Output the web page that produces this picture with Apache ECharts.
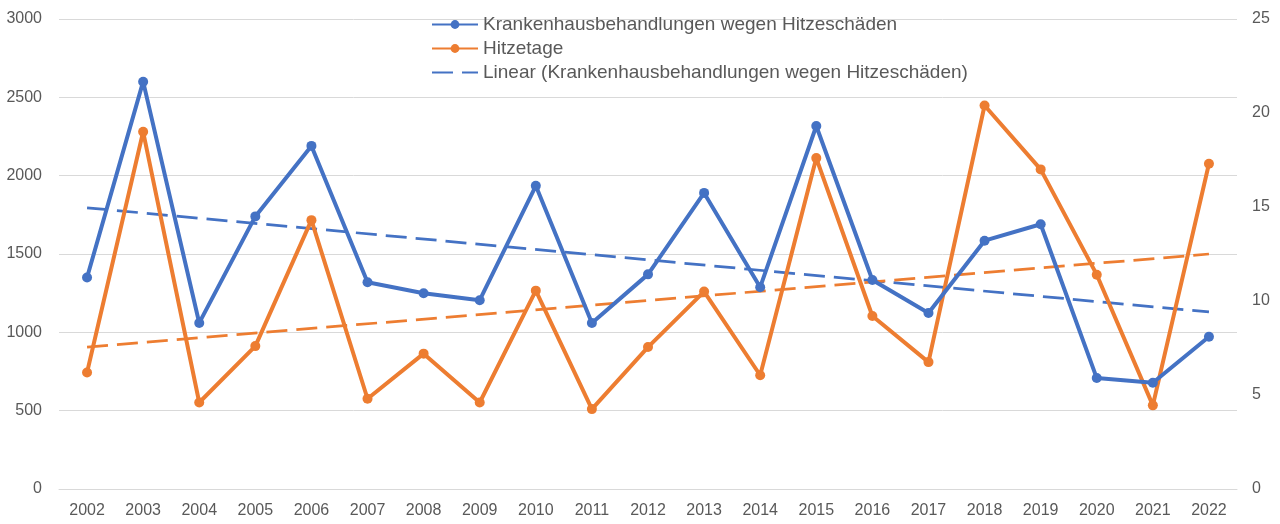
<!DOCTYPE html>
<html lang="de">
  <head>
    <meta charset="UTF-8" />
    <title>Krankenhausbehandlungen wegen Hitzeschäden</title>
    <script src="https://cdn.jsdelivr.net/npm/echarts@6/dist/echarts.min.js"></script>
    <style>
      html, body { margin: 0; padding: 0; background: #fff; }
      #chart { width: 1280px; height: 524px; }
    </style>
  </head>
  <body>
    <div id="chart"></div>
    <script>
      // Jahre (Kategorien)
      const years = ['2002', '2003', '2004', '2005', '2006', '2007', '2008', '2009', '2010', '2011',
        '2012', '2013', '2014', '2015', '2016', '2017', '2018', '2019', '2020', '2021', '2022'];

      // Krankenhausbehandlungen wegen Hitzeschäden (linke Achse)
      const treatments = [1350, 2600, 1060, 1740, 2190, 1320, 1250, 1205, 1935, 1060,
        1370, 1890, 1288, 2317, 1334, 1123, 1585, 1690, 708, 678, 972];

      // Hitzetage (rechte Achse)
      const heatDays = [6.2, 19.0, 4.6, 7.6, 14.3, 4.8, 7.2, 4.6, 10.55, 4.25,
        7.55, 10.5, 6.05, 17.6, 9.2, 6.75, 20.4, 17.0, 11.4, 4.45, 17.3];

      // Trendlinien, Anfangs- und Endwert
      const treatmentsTrend = [1795, 1130];
      const heatDaysTrend = [7.55, 12.5];

      const leftTicks = { min: 0, max: 3000, interval: 500 };
      const rightTicks = { min: 0, max: 25, interval: 5 };

      const blue = '#4472C4';
      const orange = '#ED7D31';
      const labelColor = '#595959';
      const font = '"Liberation Sans", Arial, sans-serif';

      const chart = echarts.init(document.getElementById('chart'));

      chart.setOption({
        animation: false,
        textStyle: { fontFamily: font },
        grid: { left: 59, right: 43, top: 19, bottom: 35 },
        legend: {
          orient: 'vertical',
          left: 426,
          top: 10,
          itemWidth: 46,
          itemHeight: 11,
          itemGap: 5,
          textStyle: { color: labelColor, fontSize: 19, fontFamily: font },
          data: [
            'Krankenhausbehandlungen wegen Hitzeschäden',
            'Hitzetage',
            { name: 'Linear (Krankenhausbehandlungen wegen Hitzeschäden)', itemStyle: { opacity: 0 } }
          ]
        },
        xAxis: {
          type: 'category',
          data: years,
          axisTick: { show: false },
          axisLine: { lineStyle: { color: '#D9D9D9', width: 1 } },
          axisLabel: { color: labelColor, fontSize: 16, margin: 14 }
        },
        yAxis: [
          {
            type: 'value',
            ...leftTicks,
            axisLine: { show: false },
            axisTick: { show: false },
            splitLine: { lineStyle: { color: '#D9D9D9', width: 1 } },
            axisLabel: { color: labelColor, fontSize: 16, margin: 17, formatter: v => String(v) }
          },
          {
            type: 'value',
            ...rightTicks,
            axisLine: { show: false },
            axisTick: { show: false },
            splitLine: { show: false },
            axisLabel: { color: labelColor, fontSize: 16, margin: 15 }
          }
        ],
        series: [
          {
            name: 'Linear (Krankenhausbehandlungen wegen Hitzeschäden)',
            type: 'line',
            yAxisIndex: 0,
            symbol: 'none',
            data: [[years[0], treatmentsTrend[0]], [years[years.length - 1], treatmentsTrend[1]]],
            lineStyle: { color: blue, width: 2.75, type: [21, 9] },
            itemStyle: { color: blue },
            z: 1
          },
          {
            name: 'Linear (Hitzetage)',
            type: 'line',
            yAxisIndex: 1,
            symbol: 'none',
            data: [[years[0], heatDaysTrend[0]], [years[years.length - 1], heatDaysTrend[1]]],
            lineStyle: { color: orange, width: 2.75, type: [21, 9] },
            itemStyle: { color: orange },
            z: 1
          },
          {
            name: 'Krankenhausbehandlungen wegen Hitzeschäden',
            type: 'line',
            yAxisIndex: 0,
            data: treatments,
            symbol: 'circle',
            symbolSize: 10,
            lineStyle: { color: blue, width: 4 },
            itemStyle: { color: blue },
            z: 3
          },
          {
            name: 'Hitzetage',
            type: 'line',
            yAxisIndex: 1,
            data: heatDays,
            symbol: 'circle',
            symbolSize: 10,
            lineStyle: { color: orange, width: 4 },
            itemStyle: { color: orange },
            z: 2
          }
        ]
      });
    </script>
  </body>
</html>
